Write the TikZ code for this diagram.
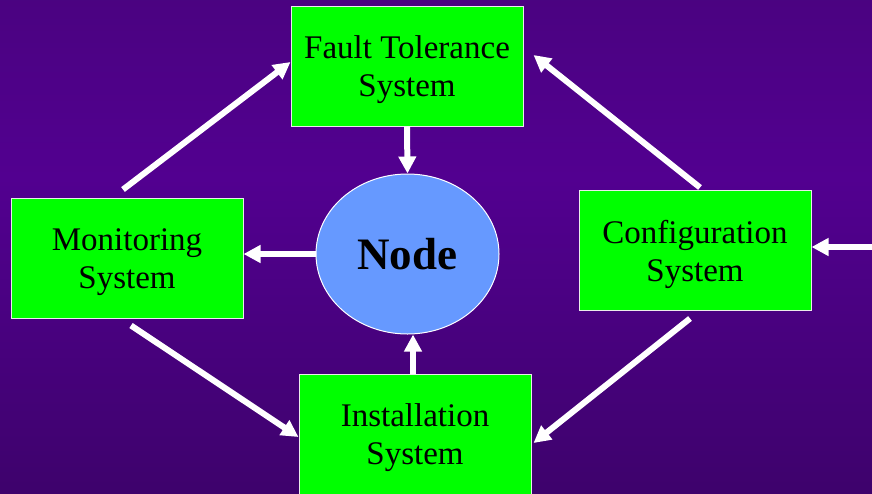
\documentclass[tikz,border=0pt]{standalone}
\usepackage{fontspec}
\setmainfont{Liberation Serif}
\usetikzlibrary{shapes.geometric,arrows.meta,calc}
\definecolor{bgtop}{RGB}{64,6,108}
\definecolor{bgmid}{RGB}{82,0,144}
\definecolor{bgbot}{RGB}{46,4,80}
\definecolor{boxgreen}{RGB}{0,255,0}
\definecolor{nodeblue}{RGB}{102,153,255}
\pgfdeclareverticalshading{bgshade}{100bp}{color(0bp)=(bgbot); color(57bp)=(bgmid); color(100bp)=(bgtop)}
\tikzset{
  sysbox/.style={draw=white!85!gray, line width=1pt, fill=boxgreen, minimum width=232pt, minimum height=120pt, inner sep=0pt},
  boxtext/.style={inner sep=0pt, align=center, font=\fontsize{33}{38}\selectfont, text=black},
  hub/.style={ellipse, draw=white, line width=1pt, fill=nodeblue, minimum width=183pt, minimum height=160pt, inner sep=0pt, font=\fontsize{45}{50}\selectfont\bfseries, text=black},
  arr/.style={draw=white, line width=6pt, -{Triangle[length=17pt,width=17pt]}}
}
\begin{document}
\begin{tikzpicture}[x=1pt,y=-1pt]
\useasboundingbox (0,0) rectangle (872,493);
\shade[shading=bgshade] (0,0) rectangle (872,493);
\node[sysbox] (ft) at (407,66) {};
\node[sysbox] (mon) at (127,258) {};
\node[sysbox] (conf) at (695,250) {};
\node[sysbox] (inst) at (415,434) {};
\node[boxtext] (ft-t) at ($(ft)+(0,4)$) {Fault Tolerance\\System};
\node[boxtext] (mon-t) at ($(mon)+(0,4)$) {Monitoring\\System};
\node[boxtext] (conf-t) at ($(conf)+(0,4)$) {Configuration\\System};
\node[boxtext] (inst-t) at ($(inst)+(0,4)$) {Installation\\System};
\node[hub] (hub) at (407.5,254) {Node};
\coordinate (ext) at (872,247);
\draw[arr] (ft.south) -- (hub.north);
\draw[arr] (hub.west) -- (hub.west -| mon.east);
\draw[arr] ([xshift=-2pt]inst.north) -- ([xshift=-2pt]inst.north |- hub.south);
\draw[arr] (ext) -- (ext -| conf.east);
\draw[arr] ($(mon.north)+(-4,-8)$) -- ($(ft.west)+(0,-4)$);
\draw[arr] ($(conf.north)+(5,-2)$) -- ($(ft.east)+(10,-11)$);
\draw[arr] ($(mon.south)+(4,7)$) -- ($(inst.west)+(0,3)$);
\draw[arr] ($(conf.south)+(-5,8)$) -- ($(inst.east)+(2,9)$);
\end{tikzpicture}
\end{document}
